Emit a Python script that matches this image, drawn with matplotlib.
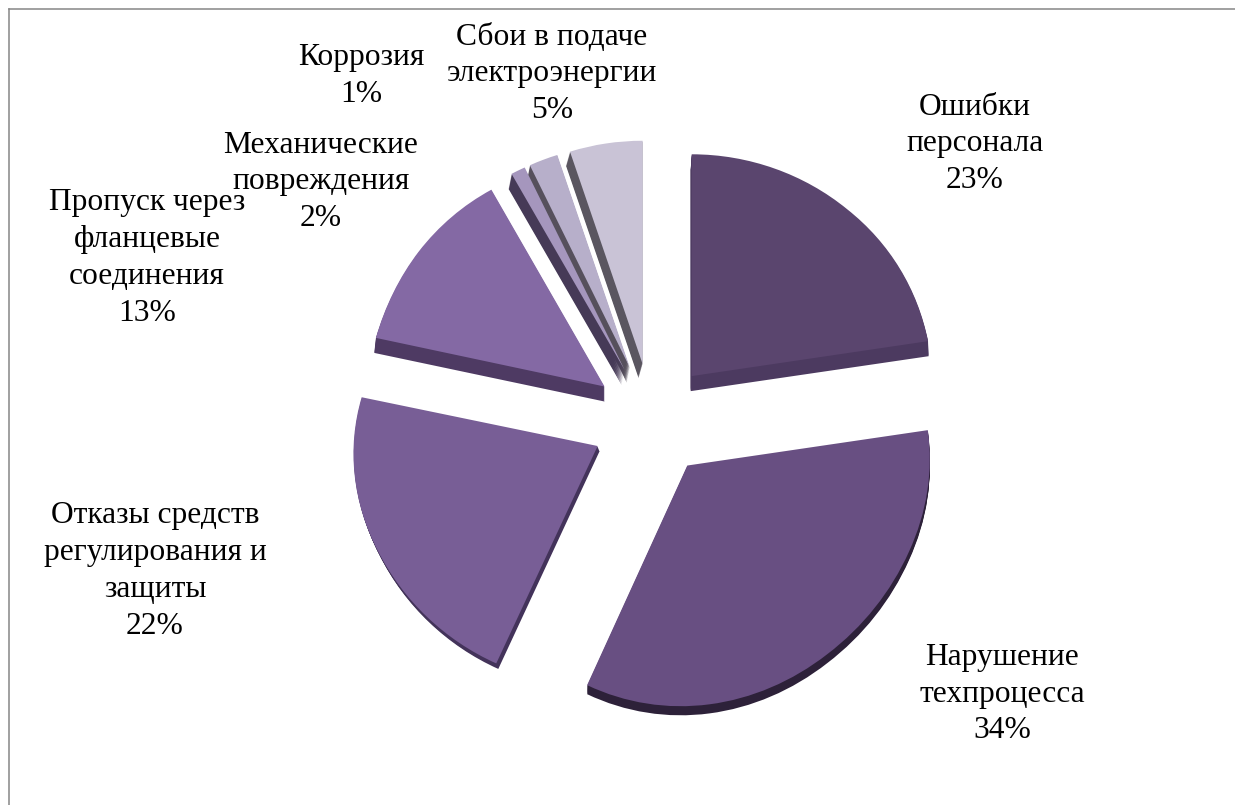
#!/usr/bin/env python3
# -*- coding: utf-8 -*-
import numpy as np
import matplotlib
matplotlib.use('Agg')
import matplotlib.pyplot as plt
from matplotlib.lines import Line2D
from matplotlib.transforms import Transform

W, H = 1235, 805
CX, CY = 652, 420   # pie centre, px
RX, RY = 235, 223   # pie radii, px

names = ['Ошибки\nперсонала', 'Нарушение\nтехпроцесса',
         'Отказы средств\nрегулирования и\nзащиты',
         'Пропуск через\nфланцевые\nсоединения',
         'Коррозия', 'Механические\nповреждения',
         'Сбои в подаче\nэлектроэнергии']
values = [23, 34, 22, 13, 1, 2, 5]

top_colors = ['#5a456e', '#684f82', '#785e96', '#8469a4', '#a596bd', '#b7afca', '#c9c3d6']
side_colors = ['#4c3a60', '#2d2139', '#43335a', '#4e3a63', '#463a57', '#56505c', '#5a5660']
side_depth = [15, 8, 5, 15, 15, 15, 14]   # px
side_shift = [-1, 0, 2, 0, -3, -3, -4]    # px, sideways lean of the extrusion

label_x = [975, 1002, 155, 147, 361, 321, 552]
label_y = [144, 694, 571, 258, 76, 182, 74]


class Perspective(Transform):
    # fake camera: tilts the disc and swells the half nearest the viewer
    input_dims = output_dims = 2

    def transform_non_affine(self, values):
        xy = np.asarray(values, dtype=float)
        x = xy[:, 0] * RX
        y = -xy[:, 1] * RY
        near = np.clip((y + 100) / 70, 0, 1)
        tilt = np.clip((y + 230) / 140, 0, 1)
        y2 = y - 0.03 * tilt * x + 0.00025 * np.clip(y, 0, None) ** 2
        x2 = x * (1 + 0.03 * near * (x / 280) ** 2)
        return np.column_stack([x2 / RX, -y2 / RY])


plt.rcParams['font.family'] = ['Liberation Serif', 'DejaVu Serif']

fig = plt.figure(figsize=(W / 100, H / 100), dpi=100)
ax = fig.add_axes([0, 0, 1, 1])
explode = [60 / RX] * len(values)
warp = Perspective() + ax.transData


def draw_pie(colors):
    wedges, _ = ax.pie(values, explode=explode, colors=colors, startangle=90,
                       counterclock=False, radius=1,
                       wedgeprops={'linewidth': 0})
    for w in wedges:
        w.set_transform(warp)
    return wedges


# side walls: stack of shifted copies under the top faces
for k in range(max(side_depth), 0, -1):
    for w, d, s in zip(draw_pie(side_colors), side_depth, side_shift):
        if k > d:
            w.set_visible(False)
        else:
            x, y = w.center
            w.set_center((x + s * k / d / RX, y - k / RY))

draw_pie(top_colors)

ax.set_aspect('auto')
ax.set_xlim(-CX / RX, (W - CX) / RX)
ax.set_ylim((CY - H) / RY, CY / RY)
ax.axis('off')

for name, v, x, y in zip(names, values, label_x, label_y):
    fig.text(x / W, 1 - y / H, f'{name}\n{v}%', ha='center', va='center',
             fontsize=22.7, linespacing=1.36, color='black')

# chart frame, top and left only
frame = '#868686'
fig.add_artist(Line2D([8.5 / W, 8.5 / W], [0, 1 - 9.5 / H], color=frame, lw=1.1))
fig.add_artist(Line2D([8.5 / W, 1], [1 - 9.5 / H, 1 - 9.5 / H], color=frame, lw=1.1))

fig.savefig('out.png', dpi=100)
